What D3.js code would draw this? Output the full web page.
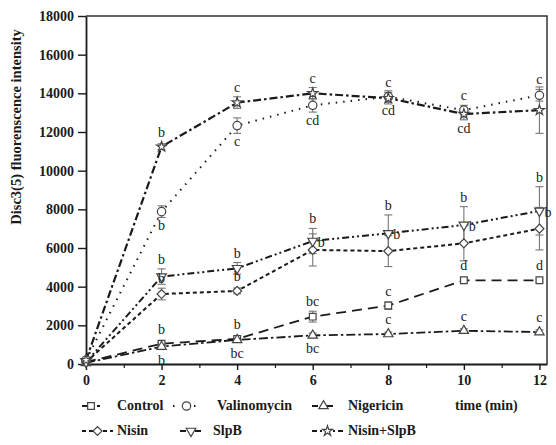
<!DOCTYPE html>
<html>
<head>
<meta charset="utf-8">
<script src="https://cdn.jsdelivr.net/npm/d3@7"></script>
<style>
  body { margin: 0; background: #fff; }
  svg { display: block; font-family: "Liberation Serif", "DejaVu Serif", serif; }
</style>
</head>
<body>
<svg id="chart" width="556" height="445"></svg>
<script>
'use strict';

// time points (min)
const times = [0, 2, 4, 6, 8, 10, 12];
const xTicks = [0, 2, 4, 6, 8, 10, 12];
const yTicks = [0, 2000, 4000, 6000, 8000, 10000, 12000, 14000, 16000, 18000];

// series values
const control = [100, 1050, 1300, 2450, 3020, 4330, 4330];
const valinomycin = [200, 7880, 12330, 13380, 13830, 13130, 13900];
const nigericin = [60, 900, 1250, 1480, 1550, 1720, 1650];
const nisin = [100, 3620, 3780, 5900, 5840, 6240, 7000];
const slpb = [100, 4520, 4950, 6360, 6760, 7190, 7920];
const nisinSlpb = [200, 11240, 13520, 14000, 13750, 12930, 13130];

// standard errors
const controlErr = [30, 80, 100, 280, 200, 100, 80];
const valinomycinErr = [50, 300, 400, 350, 300, 250, 300];
const nigericinErr = [30, 150, 100, 120, 100, 100, 120];
const nisinErr = [50, 300, 150, 830, 800, 900, 1100];
const slpbErr = [50, 400, 300, 650, 950, 950, 1250];
const nisinSlpbErr = [50, 150, 300, 300, 300, 300, 1200];

const seriesNames = ['Control', 'Valinomycin', 'Nigericin', 'Nisin', 'SlpB', 'Nisin+SlpB'];

// significance letters: [time, series, letter, side]
const letters = [
	[2, 'Nisin+SlpB', 'b', 'up'], [4, 'Nisin+SlpB', 'c', 'up'], [6, 'Nisin+SlpB', 'c', 'up'],
	[8, 'Nisin+SlpB', 'c', 'up'], [10, 'Nisin+SlpB', 'cd', 'down'],
	[2, 'Valinomycin', 'b', 'down'], [4, 'Valinomycin', 'c', 'down'], [6, 'Valinomycin', 'cd', 'down'],
	[8, 'Valinomycin', 'cd', 'down'], [10, 'Valinomycin', 'c', 'up'], [12, 'Valinomycin', 'c', 'up'],
	[2, 'SlpB', 'b', 'up'], [4, 'SlpB', 'b', 'up'], [6, 'SlpB', 'b', 'up'], [8, 'SlpB', 'b', 'up'],
	[10, 'SlpB', 'b', 'up'], [12, 'SlpB', 'b', 'up'],
	[6, 'SlpB', 'b', 'right'], [8, 'SlpB', 'b', 'right'], [10, 'SlpB', 'b', 'right'], [12, 'SlpB', 'b', 'right'],
	[2, 'Nisin', 'b', 'up'], [4, 'Nisin', 'b', 'up'],
	[2, 'Control', 'b', 'up'], [4, 'Control', 'b', 'up'], [6, 'Control', 'bc', 'up'],
	[8, 'Control', 'c', 'up'], [10, 'Control', 'd', 'up'], [12, 'Control', 'd', 'up'],
	[2, 'Nigericin', 'b', 'down'], [4, 'Nigericin', 'bc', 'down'], [6, 'Nigericin', 'bc', 'down'],
	[8, 'Nigericin', 'c', 'up'], [10, 'Nigericin', 'c', 'up'], [12, 'Nigericin', 'c', 'up'],
];

const styles = {
	'Control': { values: control, err: controlErr, dash: '10,6', width: 1.8, symbol: d3.symbolSquare, size: 45, rotate: 0 },
	'Valinomycin': { values: valinomycin, err: valinomycinErr, dash: '1.5,6', width: 2, symbol: d3.symbolCircle, size: 55, rotate: 0 },
	'Nigericin': { values: nigericin, err: nigericinErr, dash: '9,3,2.5,3', width: 1.8, symbol: d3.symbolTriangle, size: 38, rotate: 0 },
	'Nisin': { values: nisin, err: nisinErr, dash: '4,3', width: 2, symbol: d3.symbolSquare, size: 40, rotate: 45 },
	'SlpB': { values: slpb, err: slpbErr, dash: '7,3,2,3,2,3', width: 2, symbol: d3.symbolTriangle, size: 40, rotate: 180 },
	'Nisin+SlpB': { values: nisinSlpb, err: nisinSlpbErr, dash: '8,3,2.5,3', width: 2.2, symbol: d3.symbolStar, size: 32, rotate: 0 },
};

const svg = d3.select('#chart');
const mLeft = 86, mRight = 547, mTop = 16, mBottom = 364;

const x = d3.scaleLinear().domain([0, 12.2]).range([mLeft, mRight]);
const y = d3.scaleLinear().domain([0, 18000]).range([mBottom, mTop]);

const ink = '#1a1a1a';

// frame (top + right)
svg.append('path')
	.attr('d', `M${mLeft},${mTop}H${mRight}V${mBottom}`)
	.attr('fill', 'none').attr('stroke', '#333').attr('stroke-width', 1.5);

// x axis
let xAxis = svg.append('g').attr('transform', `translate(0,${mBottom})`)
	.call(d3.axisBottom(x).tickValues(xTicks).tickSize(6).tickSizeOuter(0).tickPadding(5).tickFormat(d3.format('d')));
svg.append('g').attr('transform', `translate(0,${mBottom})`)
	.call(d3.axisBottom(x).tickValues([1, 3, 5, 7, 9, 11]).tickSize(4).tickFormat(''))
	.call(g => g.select('.domain').remove())
	.selectAll('line').attr('stroke', ink).attr('stroke-width', 1.2);

// y axis
let yAxis = svg.append('g').attr('transform', `translate(${mLeft},0)`)
	.call(d3.axisLeft(y).tickValues(yTicks).tickSize(8).tickSizeOuter(0).tickPadding(4).tickFormat(d3.format('d')));

[xAxis, yAxis].forEach(g => {
	g.select('.domain').attr('stroke', ink).attr('stroke-width', 1.8);
	g.selectAll('.tick line').attr('stroke', ink).attr('stroke-width', 1.4);
	g.selectAll('.tick text')
		.attr('fill', ink)
		.style('font-family', '"Liberation Serif", serif')
		.style('font-size', '14px')
		.style('font-weight', 'bold');
});

// y axis title
svg.append('text')
	.attr('transform', `translate(21,127) rotate(-90)`)
	.attr('text-anchor', 'middle')
	.attr('fill', ink)
	.style('font-size', '14.5px')
	.style('font-weight', 'bold')
	.text('Disc3(5) fluorenscence intensity');

const line = d3.line().x((d, i) => x(times[i])).y(d => y(d));

// lines
seriesNames.forEach(name => {
	let s = styles[name];
	svg.append('path')
		.datum(s.values)
		.attr('d', line)
		.attr('fill', 'none')
		.attr('stroke', ink)
		.attr('stroke-width', s.width)
		.attr('stroke-dasharray', s.dash);
});

// error bars
seriesNames.forEach(name => {
	let s = styles[name];
	let g = svg.append('g').attr('stroke', '#777').attr('stroke-width', 1.1);
	s.values.forEach((v, i) => {
		let cx = x(times[i]), y1 = y(v + s.err[i]), y0 = y(v - s.err[i]);
		g.append('line').attr('x1', cx).attr('x2', cx).attr('y1', y1).attr('y2', y0);
		g.append('line').attr('x1', cx - 4).attr('x2', cx + 4).attr('y1', y1).attr('y2', y1);
		g.append('line').attr('x1', cx - 4).attr('x2', cx + 4).attr('y1', y0).attr('y2', y0);
	});
});

// markers
function marker(sel, s) {
	sel.append('path')
		.attr('d', d3.symbol().type(s.symbol).size(s.size))
		.attr('transform', `rotate(${s.rotate})`)
		.attr('fill', '#fff')
		.attr('stroke', '#444')
		.attr('stroke-width', 1.2);
}
seriesNames.forEach(name => {
	let s = styles[name];
	s.values.forEach((v, i) => {
		let g = svg.append('g').attr('transform', `translate(${x(times[i])},${y(v)})`);
		marker(g, s);
	});
});

// significance letters
letters.forEach(([t, name, txt, side]) => {
	let s = styles[name], i = times.indexOf(t), v = s.values[i], e = s.err[i];
	let px = x(t), py;
	let anchor = 'middle';
	if (side === 'up') {
		py = Math.min(y(v + e), y(v) - 5) - 5;
	} else if (side === 'down') {
		py = Math.max(y(v - e), y(v) + 5) + 13;
	} else {
		px += 5; py = y(v) + 6; anchor = 'start';
	}
	svg.append('text')
		.attr('x', px).attr('y', py)
		.attr('text-anchor', anchor)
		.attr('fill', '#222')
		.style('font-size', '14px')
		.text(txt);
});

// legend
const legendRows = [
	[['Control', 82, 100, 117], ['Valinomycin', 173, 200, 217], ['Nigericin', 312, 335, 348]],
	[['Nisin', 82, 113, 117], ['SlpB', 180, 202, 213], ['Nisin+SlpB', 312, 343, 348]],
];
const legendY = [410, 435];
legendRows.forEach((row, r) => {
	row.forEach(([name, x0, x1, tx]) => {
		let s = styles[name], ly = legendY[r] - 4;
		svg.append('line')
			.attr('x1', x0).attr('x2', x1).attr('y1', ly).attr('y2', ly)
			.attr('stroke', ink).attr('stroke-width', 1.8)
			.attr('stroke-dasharray', name === 'Valinomycin' ? '1.5,9' : (name === 'Nisin' ? '4,3' : (name === 'Nisin+SlpB' ? '5,3,2,3' : '6,9')));
		let g = svg.append('g').attr('transform', `translate(${(x0 + x1) / 2},${ly})`);
		marker(g, s);
		svg.append('text')
			.attr('x', tx).attr('y', legendY[r])
			.attr('fill', ink)
			.style('font-size', '14px')
			.style('font-weight', 'bold')
			.text(name);
	});
});
svg.append('text')
	.attr('x', 455).attr('y', legendY[0])
	.attr('fill', ink)
	.style('font-size', '14px')
	.style('font-weight', 'bold')
	.text('time (min)');
</script>
</body>
</html>
